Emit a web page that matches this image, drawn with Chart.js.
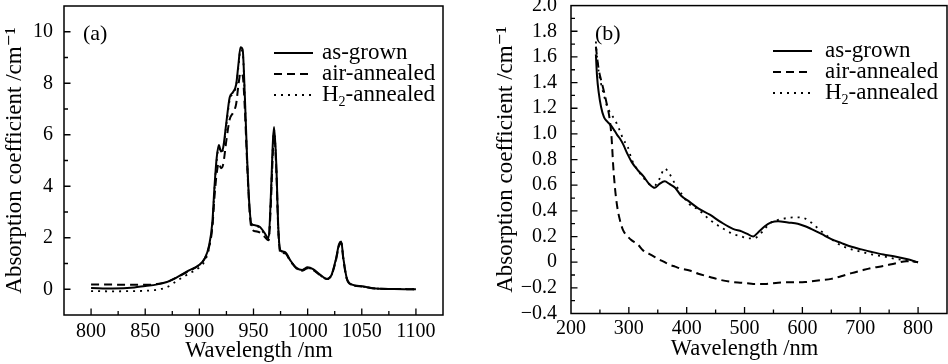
<!DOCTYPE html>
<html>
<head>
<meta charset="utf-8">
<script src="https://cdn.jsdelivr.net/npm/chart.js@4.4.0/dist/chart.umd.min.js"></script>
<style>
    body { margin: 0; background: #fff; width: 948px; height: 364px; overflow: hidden; position: relative; }
    canvas { position: absolute; top: 0; }
</style>
</head>
<body>
<canvas id="chartA" width="474" height="364" style="left:0"></canvas>
<canvas id="chartB" width="474" height="364" style="left:474px"></canvas>
<script>
//PANEL (a) DATA: near infrared absorption
var waveA = [800, 820, 840, 850, 860, 870, 880, 890, 900, 905, 909, 912, 914, 916, 918, 920, 922, 925, 928, 931,
    934, 936, 938, 940, 942, 944, 946, 948, 952, 956, 960, 964, 966, 968, 969, 971, 973, 975, 979, 984,
    990, 995, 1000, 1005, 1012, 1018, 1022, 1026, 1029, 1031, 1033, 1036, 1041, 1050, 1060, 1080, 1100];
var grownA = [0.05, 0.03, 0.07, 0.13, 0.18, 0.28, 0.48, 0.72, 0.95, 1.2, 1.7, 2.6, 4.0, 5.1, 5.6, 5.35, 5.5, 6.5, 7.45, 7.65,
    7.95, 8.7, 9.4, 9.3, 7.5, 5.2, 3.4, 2.55, 2.48, 2.42, 2.2, 1.98, 3.6, 5.8, 6.3, 4.9, 2.3, 1.5, 1.45, 1.12,
    0.82, 0.75, 0.85, 0.78, 0.55, 0.4, 0.55, 1.15, 1.75, 1.85, 1.2, 0.45, 0.18, 0.12, 0.04, 0.01, 0.0];
var airA = [0.18, 0.18, 0.17, 0.17, 0.2, 0.28, 0.48, 0.7, 0.95, 1.2, 1.65, 2.4, 3.6, 4.5, 4.9, 4.7, 4.85, 5.8, 6.6, 6.85,
    7.2, 7.9, 8.4, 8.3, 7.0, 5.0, 3.3, 2.4, 2.25, 2.2, 2.05, 1.9, 3.3, 5.4, 6.0, 4.7, 2.2, 1.4, 1.4, 1.1,
    0.8, 0.72, 0.82, 0.75, 0.53, 0.4, 0.55, 1.1, 1.7, 1.8, 1.15, 0.43, 0.17, 0.11, 0.04, 0.01, 0.0];
var h2A = [-0.07, -0.08, -0.07, -0.06, -0.02, 0.08, 0.35, 0.6, 0.85, 1.1, 1.6, 2.5, 3.9, 5.0, 5.5, 5.3, 5.45, 6.4, 7.35, 7.6,
    7.9, 8.6, 9.3, 9.2, 7.4, 5.1, 3.35, 2.5, 2.45, 2.38, 2.15, 1.95, 3.5, 5.7, 6.2, 4.8, 2.25, 1.45, 1.4, 1.1,
    0.8, 0.73, 0.83, 0.76, 0.53, 0.39, 0.54, 1.12, 1.72, 1.82, 1.18, 0.44, 0.17, 0.11, 0.04, 0.01, 0.0];

//PANEL (b) DATA: UV-visible absorption
var waveB = [243, 245, 248, 252, 257, 262, 266, 270, 273, 276, 280, 285, 290, 298, 305, 315, 325, 335, 345, 353,
    362, 370, 380, 390, 405, 420, 440, 460, 480, 495, 505, 515, 523, 535, 546, 558, 575, 592, 605, 615,
    633, 650, 667, 685, 702, 720, 740, 760, 780, 800];
var grownB = [1.62, 1.45, 1.32, 1.21, 1.13, 1.1, 1.08, 1.06, 1.04, 1.02, 0.99, 0.96, 0.92, 0.84, 0.78, 0.72, 0.67, 0.61, 0.58, 0.61,
    0.63, 0.61, 0.58, 0.52, 0.47, 0.42, 0.37, 0.31, 0.26, 0.24, 0.22, 0.2, 0.23, 0.28, 0.31, 0.32, 0.31, 0.30, 0.28, 0.26,
    0.22, 0.18, 0.15, 0.12, 0.10, 0.08, 0.06, 0.045, 0.025, 0.0];
var airB = [1.68, 1.6, 1.5, 1.42, 1.33, 1.23, 1.14, 0.98, 0.75, 0.58, 0.43, 0.32, 0.25, 0.2, 0.17, 0.14, 0.09, 0.065, 0.04, 0.02,
    0.0, -0.02, -0.035, -0.05, -0.065, -0.09, -0.115, -0.14, -0.155, -0.16, -0.165, -0.17, -0.17, -0.17, -0.165, -0.16, -0.157, -0.157, -0.155, -0.15,
    -0.14, -0.13, -0.11, -0.085, -0.065, -0.045, -0.03, -0.01, 0.008, 0.0];
var h2B = [1.72, 1.6, 1.48, 1.39, 1.3, 1.22, 1.18, 1.15, 1.13, 1.11, 1.07, 1.02, 0.96, 0.9, 0.8, 0.72, 0.66, 0.61, 0.6, 0.65,
    0.73, 0.69, 0.61, 0.54, 0.45, 0.41, 0.33, 0.27, 0.22, 0.2, 0.185, 0.185, 0.2, 0.26, 0.31, 0.33, 0.345, 0.35, 0.34, 0.31,
    0.24, 0.18, 0.13, 0.1, 0.08, 0.06, 0.045, 0.026, 0.013, 0.0];

var seriesNames = ["as-grown", "air-annealed", "H\u2082-annealed"];

//TICK LABELS
var xTicksA = [800, 850, 900, 950, 1000, 1050, 1100];
var yTicksA = [0, 2, 4, 6, 8, 10];
var xTicksB = [200, 300, 400, 500, 600, 700, 800];
var yTicksB = [-0.4, -0.2, 0, 0.2, 0.4, 0.6, 0.8, 1.0, 1.2, 1.4, 1.6, 1.8, 2.0];

var xTitle = "Wavelength /nm";
var yTitle = "Absorption coefficient /cm\u207B\u00B9";
var serif = "'Liberation Serif', 'DejaVu Serif', serif";


//HELPERS ------------------------------------------------------------
function pairUp(xs, ys) {
    var out = [];
    for (var i = 0; i < xs.length; i++) {
        out.push({ x: xs[i], y: ys[i] });
    }
    return out;
}

function inList(v, list) {
    for (var i = 0; i < list.length; i++) {
        if (Math.abs(list[i] - v) < 1e-6) return true;
    }
    return false;
}

function fmtB(v) {
    if (Math.abs(v) < 1e-9) return "0";
    return (v < 0 ? "\u2212" : "") + Math.abs(v).toFixed(1);
}

function makeDatasets(wave, grown, air, h2) {
    return [
        { label: seriesNames[0], data: pairUp(wave, grown), borderColor: '#000', borderWidth: 2, borderDash: [] },
        { label: seriesNames[1], data: pairUp(wave, air), borderColor: '#000', borderWidth: 2, borderDash: [8, 5] },
        { label: seriesNames[2], data: pairUp(wave, h2), borderColor: '#000', borderWidth: 1.8, borderDash: [2, 5] }
    ];
}

//frame, inward ticks, legend, titles all drawn here
var framePlugin = {
    id: 'frame',
    afterDatasetsDraw: function (chart, args, o) {
        var ctx = chart.ctx;
        var a = chart.chartArea;
        var xs = chart.scales.x, ys = chart.scales.y;
        ctx.save();
        ctx.strokeStyle = '#000';
        ctx.fillStyle = '#000';
        ctx.setLineDash([]);
        ctx.lineWidth = 1.5;
        ctx.strokeRect(a.left, a.top, a.right - a.left, a.bottom - a.top);

        ctx.lineWidth = 1.3;
        ctx.beginPath();
        xs.ticks.forEach(function (t) {
            if (t.value <= xs.min + 1e-6 || t.value >= xs.max - 1e-6) return;
            var len = inList(t.value, o.xMajor) ? 6.5 : 4;
            var px = xs.getPixelForValue(t.value);
            ctx.moveTo(px, a.bottom);
            ctx.lineTo(px, a.bottom - len);
        });
        ys.ticks.forEach(function (t) {
            if (t.value <= ys.min + 1e-6 || t.value >= ys.max - 1e-6) return;
            var len = inList(t.value, o.yMajor) ? 6.5 : 4;
            var py = ys.getPixelForValue(t.value);
            ctx.moveTo(a.left, py);
            ctx.lineTo(a.left + len, py);
        });
        ctx.stroke();

        //panel tag
        ctx.font = "22px " + serif;
        ctx.textAlign = 'left';
        ctx.textBaseline = 'alphabetic';
        ctx.fillText(o.tag, o.tagPos[0], o.tagPos[1]);

        //legend
        var lx = o.legendPos[0], ly = o.legendPos[1];
        chart.data.datasets.forEach(function (ds, i) {
            var y = ly + i * 21;
            ctx.lineWidth = ds.borderWidth;
            ctx.setLineDash(ds.borderDash);
            ctx.beginPath();
            ctx.moveTo(lx, y);
            ctx.lineTo(lx + 39, y);
            ctx.stroke();
            ctx.setLineDash([]);
            ctx.font = "23px " + serif;
            ctx.textBaseline = 'middle';
            var tx = lx + o.textGap;
            if (ds.label.indexOf("H\u2082") === 0) {
                ctx.fillText("H", tx, y);
                tx += ctx.measureText("H").width;
                ctx.font = "14px " + serif;
                ctx.fillText("2", tx, y + 7);
                tx += ctx.measureText("2").width;
                ctx.font = "23px " + serif;
                ctx.fillText(ds.label.substring(2), tx, y);
            } else {
                ctx.fillText(ds.label, tx, y);
            }
        });

        //axis titles
        ctx.font = "22.5px " + serif;
        ctx.textAlign = 'center';
        ctx.textBaseline = 'middle';
        ctx.fillText(xTitle, xs.getPixelForValue(o.xTitleAt), o.xTitleY);
        ctx.font = "23px " + serif;
        ctx.translate(o.yTitleX, (a.top + a.bottom) / 2);
        ctx.rotate(-Math.PI / 2);
        ctx.fillText(yTitle, 0, 0);
        ctx.restore();
    }
};

function scaleSet(xMin, xMax, xStep, xLabels, xPad, yMin, yMax, yStep, yLabels, yFmt, yWidth, yPad) {
    return {
        x: {
            type: 'linear', position: 'bottom', min: xMin, max: xMax,
            grid: { display: false }, border: { display: false },
            ticks: {
                stepSize: xStep, autoSkip: false, maxRotation: 0, minRotation: 0, padding: xPad,
                color: '#000', font: { family: serif, size: 20 },
                callback: function (v) { return inList(v, xLabels) ? String(v) : ''; }
            },
            afterFit: function (s) { s.height = 49; s.paddingLeft = 0; s.paddingRight = 0; }
        },
        y: {
            type: 'linear', position: 'left', min: yMin, max: yMax,
            grid: { display: false }, border: { display: false },
            ticks: {
                stepSize: yStep, autoSkip: false, padding: yPad,
                color: '#000', font: { family: serif, size: 20 },
                callback: function (v) { return inList(v, yLabels) ? yFmt(v) : ''; }
            },
            afterFit: function (s) { s.width = yWidth; s.paddingTop = 0; s.paddingBottom = 0; }
        }
    };
}


//CHARTS ------------------------------------------------------------
new Chart("chartA", {
    type: 'line',
    data: { datasets: makeDatasets(waveA, grownA, airA, h2A) },
    options: {
        responsive: false,
        animation: false,
        elements: { point: { radius: 0 }, line: { cubicInterpolationMode: 'monotone' } },
        layout: { padding: { left: 0, right: 31, top: 6, bottom: 0 } },
        scales: scaleSet(775, 1125, 25, xTicksA, -3, -1, 11, 1, yTicksA, function (v) { return String(v); }, 64, 3),
        plugins: {
            legend: { display: false },
            tooltip: { enabled: false },
            frame: {
                xMajor: xTicksA, yMajor: yTicksA, tag: "(a)", tagPos: [83, 40],
                legendPos: [274, 53], textGap: 48, xTitleAt: 955, xTitleY: 351, yTitleX: 15
            }
        }
    },
    plugins: [framePlugin]
});

new Chart("chartB", {
    type: 'line',
    data: { datasets: makeDatasets(waveB, grownB, airB, h2B) },
    options: {
        responsive: false,
        animation: false,
        elements: { point: { radius: 0 }, line: { cubicInterpolationMode: 'monotone' } },
        layout: { padding: { left: 0, right: 1, top: 5.6, bottom: 1.5 } },
        scales: scaleSet(200, 850, 50, xTicksB, -5, -0.4, 2.0, 0.1, yTicksB, fmtB, 97, 6),
        plugins: {
            legend: { display: false },
            tooltip: { enabled: false },
            frame: {
                xMajor: xTicksB, yMajor: yTicksB, tag: "(b)", tagPos: [121, 40],
                legendPos: [299, 51], textGap: 52, xTitleAt: 500, xTitleY: 349, yTitleX: 32
            }
        }
    },
    plugins: [framePlugin]
});
</script>
</body>
</html>
